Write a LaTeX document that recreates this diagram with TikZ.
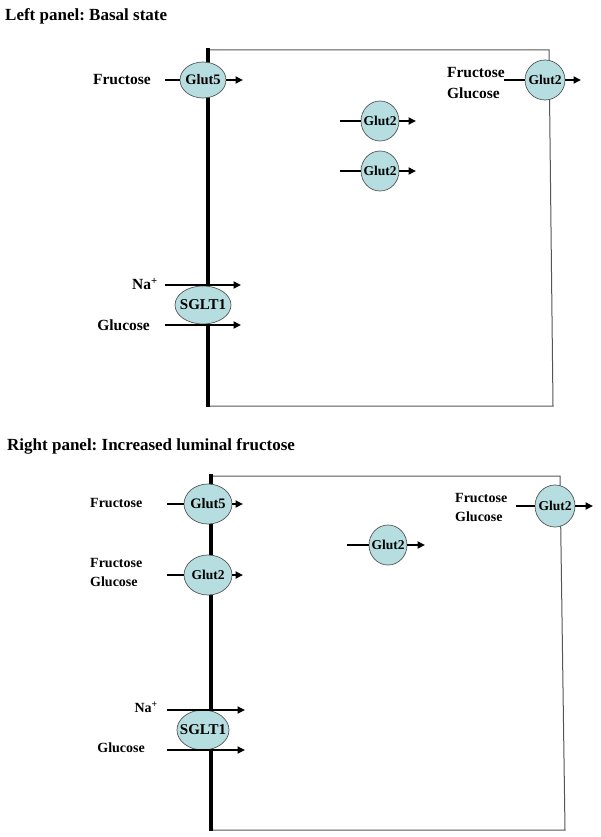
\documentclass[tikz,border=0pt]{standalone}
\usepackage{fontspec}
\setmainfont{Liberation Serif}
\usetikzlibrary{shapes.geometric,arrows.meta}
\definecolor{carrierfill}{RGB}{182,222,224}
\definecolor{edgegray}{RGB}{85,85,85}

\begin{document}
\frenchspacing
\begin{tikzpicture}[x=1pt,y=-1pt,
    >={Triangle[length=7.5pt,width=7pt]},
    carrier/.style={ellipse,draw=edgegray,line width=0.7pt,fill=carrierfill,inner sep=0pt},
    glutfive/.style={carrier,label={[inner sep=0pt,font=\bfseries\fontsize{14.5}{14.5}\selectfont]center:#1}},
    gluttwo/.style={carrier,label={[inner sep=0pt,font=\bfseries\fontsize{13.5}{13.5}\selectfont]center:#1}},
    sglt/.style={carrier,label={[inner sep=0pt,font=\bfseries\fontsize{15}{15}\selectfont]center:#1}},
    flow/.style={line width=1.8pt},
    membrane/.style={line width=3.8pt},
    wall/.style={draw=edgegray,line width=1pt},
    title/.style={anchor=west,inner sep=0pt,font=\bfseries\fontsize{17}{17}\selectfont},
    sugar/.style={inner sep=0pt,font=\bfseries\fontsize{15.5}{15.5}\selectfont},
    sugarsm/.style={inner sep=0pt,font=\bfseries\fontsize{14}{14}\selectfont}]
  \useasboundingbox (0,0) rectangle (600,837);

  % left panel
  \node[title] (titleA) at (5,16) {Left panel: Basal state};
  \draw[wall] (208,50) -- (549,50) -- (553,406) -- (208,406);
  \draw[membrane] (208,48) -- (208,407);
  \node[glutfive=Glut5,minimum width=46pt,minimum height=36pt] (g5a) at (203,80) {};
  \node[gluttwo=Glut2,minimum width=40pt,minimum height=40pt] (g2a) at (545,80) {};
  \node[gluttwo=Glut2,minimum width=38pt,minimum height=40pt] (g2b) at (380,121) {};
  \node[gluttwo=Glut2,minimum width=38pt,minimum height=40pt] (g2c) at (380,171) {};
  \node[sglt=SGLT1,minimum width=56pt,minimum height=38pt] (sgA) at (203,305) {};

  \node[sugar,anchor=east] (fruA) at (151,80) {Fructose};
  \node[sugar,anchor=east] (fruB) at (505,73) {Fructose};
  \node[sugar,anchor=west] (gluB) at (fruB.west |- 0,93) {Glucose};
  \node[sugar,anchor=east] (naA) at (158,284) {Na\textsuperscript{+}};
  \node[sugar,anchor=east] (gluA) at (150,325) {Glucose};

  \coordinate (inA) at (165,80);   \coordinate (outA) at (243,80);
  \coordinate (inB) at (504,80);   \coordinate (outB) at (581,80);
  \coordinate (inC) at (340,121);  \coordinate (outC) at (416,121);
  \coordinate (inD) at (340,171);  \coordinate (outD) at (416,171);
  \coordinate (naA1) at (165,285); \coordinate (naA2) at (241,285);
  \coordinate (glA1) at (165,325); \coordinate (glA2) at (241,325);

  \draw[flow] (inA) -- (g5a);  \draw[flow,->] (g5a) -- (outA);
  \draw[flow] (inB) -- (g2a);  \draw[flow,->] (g2a) -- (outB);
  \draw[flow] (inC) -- (g2b);  \draw[flow,->] (g2b) -- (outC);
  \draw[flow] (inD) -- (g2c);  \draw[flow,->] (g2c) -- (outD);
  \draw[flow,->] (naA1) -- (naA2);
  \draw[flow,->] (glA1) -- (glA2);

  % right panel
  \node[title] (titleB) at (7,446) {Right panel: Increased luminal fructose};
  \draw[wall] (211,476) -- (560,476) -- (565,830) -- (211,830);
  \draw[membrane] (211,474) -- (211,831);
  \node[glutfive=Glut5,minimum width=48pt,minimum height=40pt] (g5b) at (208,504) {};
  \node[gluttwo=Glut2,minimum width=48pt,minimum height=40pt] (g2d) at (208,575) {};
  \node[gluttwo=Glut2,minimum width=38pt,minimum height=40pt] (g2e) at (388,545) {};
  \node[gluttwo=Glut2,minimum width=40pt,minimum height=42pt] (g2f) at (555,506) {};
  \node[sglt=SGLT1,minimum width=52pt,minimum height=40pt] (sgB) at (203,730) {};

  \node[sugarsm,anchor=west] (fruC) at (90,503) {Fructose};
  \node[sugarsm,anchor=west] (fruD) at (90,563) {Fructose};
  \node[sugarsm,anchor=west] (gluD) at (90,582) {Glucose};
  \node[sugarsm,anchor=west] (fruE) at (455,498) {Fructose};
  \node[sugarsm,anchor=west] (gluE) at (455,517) {Glucose};
  \node[sugarsm,anchor=east] (naB) at (158,707) {Na\textsuperscript{+}};
  \node[sugarsm,anchor=east] (gluB2) at (145,748) {Glucose};

  \coordinate (inE) at (167,504);  \coordinate (outE) at (243,504);
  \coordinate (inF) at (167,575);  \coordinate (outF) at (243,575);
  \coordinate (inG) at (347,545);  \coordinate (outG) at (425,545);
  \coordinate (inH) at (516,506);  \coordinate (outH) at (593,506);
  \coordinate (naB1) at (167,710); \coordinate (naB2) at (245,710);
  \coordinate (glB1) at (167,750); \coordinate (glB2) at (245,750);

  \draw[flow] (inE) -- (g5b);  \draw[flow,->] (g5b) -- (outE);
  \draw[flow] (inF) -- (g2d);  \draw[flow,->] (g2d) -- (outF);
  \draw[flow] (inG) -- (g2e);  \draw[flow,->] (g2e) -- (outG);
  \draw[flow] (inH) -- (g2f);  \draw[flow,->] (g2f) -- (outH);
  \draw[flow,->] (naB1) -- (naB2);
  \draw[flow,->] (glB1) -- (glB2);
\end{tikzpicture}
\end{document}
